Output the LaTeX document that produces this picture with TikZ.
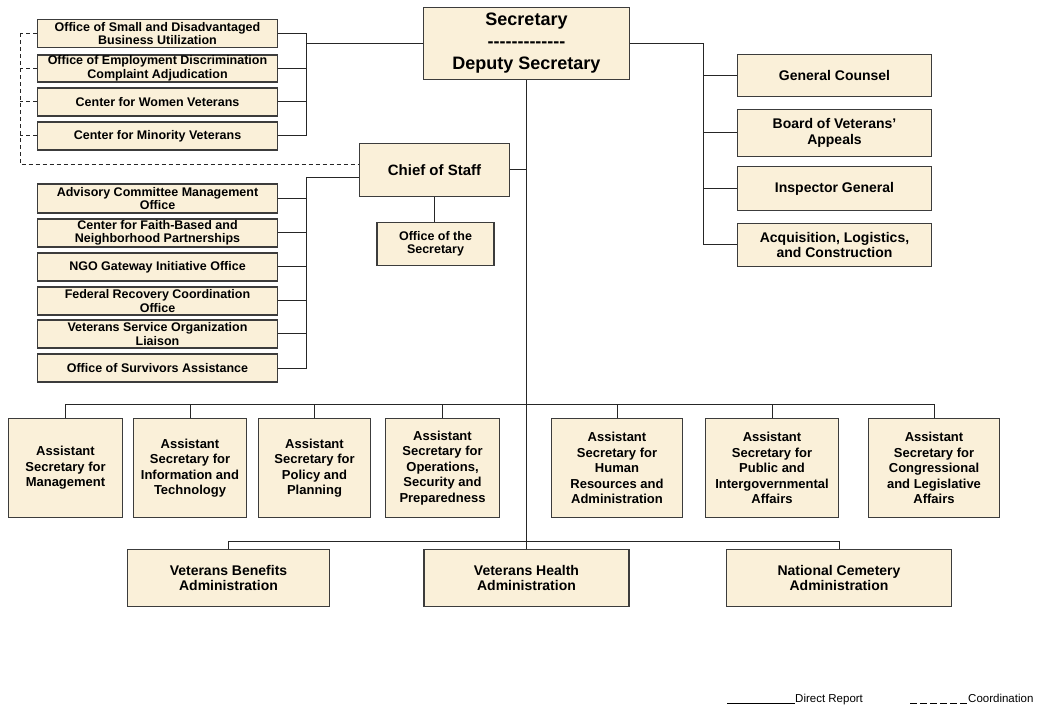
\documentclass[tikz,border=0pt]{standalone}
\usepackage{fontspec}
\setmainfont{Liberation Sans}
\definecolor{boxfill}{RGB}{250,240,217}
\definecolor{boxline}{RGB}{60,60,60}
\tikzset{
  box/.style={draw=boxline, fill=boxfill, line width=1.2pt, inner sep=0pt, align=center},
  lbox/.style={box, font=\bfseries\fontsize{12.5}{13.5}\selectfont, minimum width=240pt, minimum height=28pt},
  rbox/.style={box, font=\bfseries\fontsize{14}{15.5}\selectfont, minimum width=194pt},
  abox/.style={box, font=\bfseries\fontsize{13}{15.5}\selectfont, minimum height=99pt},
  dbox/.style={box, font=\bfseries\fontsize{14}{15.5}\selectfont, minimum height=57pt},
  conn/.style={line width=1pt, draw=black!85},
  coord/.style={conn, dash pattern=on 4pt off 3pt},
  legend/.style={font=\fontsize{11.5}{13}\selectfont, inner sep=0pt},
}
\begin{document}
\begin{tikzpicture}[x=1pt,y=-1pt]
\useasboundingbox (0,0) rectangle (1038,708);
\fill[white] (0,0) rectangle (1038,708);

% top
\node[box, font=\bfseries\fontsize{18}{22}\selectfont, minimum width=206pt, minimum height=72pt] (sec) at (526.5,43.5)
  {Secretary\\-{}-{}-{}-{}-{}-{}-{}-{}-{}-{}-{}-{}-\\Deputy Secretary};

% left group 1
\node[lbox] (osdbu) at (157.5,33.5) {Office of Small and Disadvantaged\\Business Utilization};
\node[lbox, minimum height=27pt] (oedca) at (157.5,68.5) {Office of Employment Discrimination\\Complaint Adjudication};
\node[lbox] (cwv) at (157.5,102) {Center for Women Veterans};
\node[lbox] (cmv) at (157.5,136) {Center for Minority Veterans};

% chief of staff
\node[box, font=\bfseries\fontsize{15}{17}\selectfont, minimum width=150pt, minimum height=53pt] (cos) at (434.5,170) {Chief of Staff};
\node[box, font=\bfseries\fontsize{12.5}{13}\selectfont, minimum width=117pt, minimum height=43pt] (ots) at (435.5,244) {Office of the\\Secretary};

% left group 2
\node[lbox, minimum height=29pt] (acm) at (157.5,198.5) {Advisory Committee Management\\Office};
\node[lbox] (cfb) at (157.5,233) {Center for Faith-Based and\\Neighborhood Partnerships};
\node[lbox] (ngo) at (157.5,267) {NGO Gateway Initiative Office};
\node[lbox] (frc) at (157.5,301) {Federal Recovery Coordination\\Office};
\node[lbox] (vso) at (157.5,334) {Veterans Service Organization\\Liaison};
\node[lbox] (osa) at (157.5,368) {Office of Survivors Assistance};

% right group
\node[rbox, minimum height=42pt] (gc) at (834.5,75.5) {General Counsel};
\node[rbox, minimum height=47pt] (bva) at (834.5,133) {Board of Veterans’\\Appeals};
\node[rbox, minimum height=44pt] (ig) at (834.5,188.5) {Inspector General};
\node[rbox, minimum height=43pt] (alc) at (834.5,245) {Acquisition, Logistics,\\and Construction};

% assistant secretaries
\node[abox, minimum width=114pt] (asm) at (65.5,468) {Assistant\\Secretary for\\Management};
\node[abox, minimum width=113pt] (ait) at (190,468) {Assistant\\Secretary for\\Information and\\Technology};
\node[abox, minimum width=112pt] (app) at (314.5,468) {Assistant\\Secretary for\\Policy and\\Planning};
\node[abox, minimum width=114pt] (aos) at (442.5,468) {Assistant\\Secretary for\\Operations,\\Security and\\Preparedness};
\node[abox, minimum width=131pt] (ahr) at (617,468) {Assistant\\Secretary for\\Human\\Resources and\\Administration};
\node[abox, minimum width=133pt] (apia) at (772,468) {Assistant\\Secretary for\\Public and\\Intergovernmental\\Affairs};
\node[abox, minimum width=131pt] (acla) at (934,468) {Assistant\\Secretary for\\Congressional\\and Legislative\\Affairs};

% administrations
\node[dbox, minimum width=202pt] (vba) at (228.5,578) {Veterans Benefits\\Administration};
\node[dbox, minimum width=205pt] (vha) at (526.5,578) {Veterans Health\\Administration};
\node[dbox, minimum width=225pt] (nca) at (839,578) {National Cemetery\\Administration};

% coordinates
\coordinate (lb1) at (306,44);
\coordinate (lb2) at (306,178);
\coordinate (rb) at (703,43.5);
\coordinate (ld) at (20,165);
\coordinate (bus1) at (526.5,404);
\coordinate (bus2) at (526.5,541);

% connectors: secretary
\draw[conn] (sec.south) -- (vha.north);
\draw[conn] (sec.west |- lb1) -- (lb1);
\draw[conn] (sec.east) -- (rb);
\foreach \n in {osdbu,oedca,cwv,cmv} \draw[conn] (\n.east) -| (lb1);
\foreach \n in {gc,bva,ig,alc} \draw[conn] (\n.west) -| (rb);

% chief of staff
\draw[conn] (cos.east) -- (cos.east -| sec.south);
\draw[conn] (cos.south) -- (cos.south |- ots.north);
\draw[conn] ([yshift=-8pt]cos.west) -- (lb2);
\foreach \n in {acm,cfb,ngo,frc,vso,osa} \draw[conn] (\n.east) -| (lb2);

% coordination (dashed)
\draw[coord] (osdbu.west -| ld) -- (ld) -- ([yshift=5pt]cos.west);
\foreach \n in {osdbu,oedca,cwv,cmv} \draw[coord] (\n.west) -- (\n.west -| ld);

% assistant secretaries bus
\draw[conn] (asm.north |- bus1) -- (acla.north |- bus1);
\foreach \n in {asm,ait,app,aos,ahr,apia,acla} \draw[conn] (\n.north) -- (\n.north |- bus1);

% administrations bus
\draw[conn] (vba.north |- bus2) -- (nca.north |- bus2);
\foreach \n in {vba,nca} \draw[conn] (\n.north) -- (\n.north |- bus2);

% legend
\node[legend, anchor=base west] (ldr) at (795,702) {Direct Report};
\coordinate (ls) at (727,703);
\draw[line width=0.8pt] (ls) -- (ls -| ldr.west);
\node[legend, anchor=base west] (lco) at (968,702) {Coordination};
\coordinate (lcs) at (910,703);
\draw[line width=0.8pt, dash pattern=on 7pt off 3pt] (lcs) -- (lcs -| lco.west);
\end{tikzpicture}
\end{document}
